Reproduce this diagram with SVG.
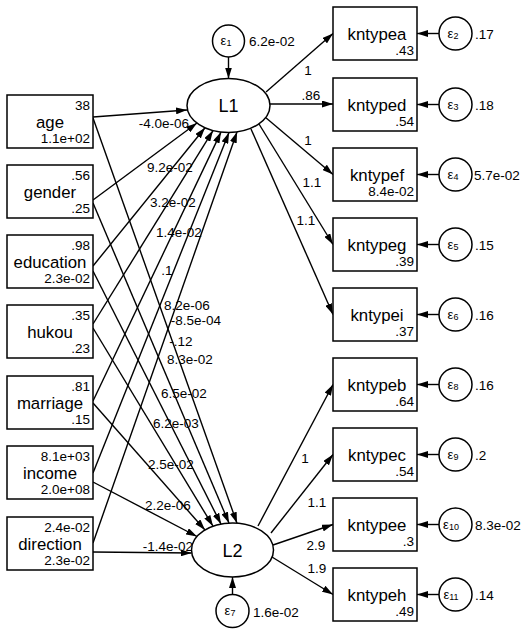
<svg xmlns="http://www.w3.org/2000/svg" width="529" height="637" viewBox="0 0 529 637">
<style>
text{font-family:"Liberation Sans",Arial,sans-serif;fill:#000}
.box{fill:#fff;stroke:#000;stroke-width:1.5}
.lat{fill:#fff;stroke:#000;stroke-width:1.5}
.err{fill:#fff;stroke:#000;stroke-width:1.5}
.name{font-size:16.8px;text-anchor:middle}
.num{font-size:13.5px;text-anchor:end}
.lab{font-size:13.5px;text-anchor:middle}
.elab{font-size:13.5px;text-anchor:start}
.eps{font-size:13px;text-anchor:middle}
.sub{font-size:9px}
.lv{font-size:18px;text-anchor:middle}
#connectors path{fill:none;stroke:#000;stroke-width:1.4;marker-end:url(#ah)}
</style>
<defs>
<marker id="ah" viewBox="0 0 11 7" refX="11" refY="3.5" markerWidth="11" markerHeight="7" markerUnits="userSpaceOnUse" orient="auto">
<path d="M0,0 L11,3.5 L0,7 z" fill="#000"/>
</marker>
</defs>
<rect width="529" height="637" fill="#fff"/>

<g id="connectors">
<path d="M93,117 L187,110"/>
<path d="M93,200 L197,123"/>
<path d="M93,266 L205,127.7"/>
<path d="M93,324 L213,130.6"/>
<path d="M93,401 L221,132.1"/>
<path d="M93,473 L229,132.5"/>
<path d="M93,543 L237,131.9"/>
<path d="M93,118 L237,523.2"/>
<path d="M93,203 L229,523.1"/>
<path d="M93,271 L221,524.1"/>
<path d="M93,328 L213,526.2"/>
<path d="M93,403 L205,530"/>
<path d="M93,482 L197,536.5"/>
<path d="M93,552 L191.6,553"/>
<path d="M266,92 L333,33.5"/>
<path d="M270,104 L333,104"/>
<path d="M265,117 L333,174.5"/>
<path d="M259,124 L333,244.5"/>
<path d="M251,129 L333,314.5"/>
<path d="M258,526 L333,384.5"/>
<path d="M271,533 L333,454.5"/>
<path d="M273,545 L333,524.5"/>
<path d="M272,557 L333,594.5"/>
<path d="M228.5,57 L228.5,78.5"/>
<path d="M232.5,594 L232.5,577"/>
<path d="M439,33.5 L417,33.5"/>
<path d="M439,104.5 L417,104.5"/>
<path d="M439,174.5 L417,174.5"/>
<path d="M439,244.5 L417,244.5"/>
<path d="M439,314.5 L417,314.5"/>
<path d="M439,384.5 L417,384.5"/>
<path d="M439,454.5 L417,454.5"/>
<path d="M439,524.5 L417,524.5"/>
<path d="M439,594.5 L417,594.5"/>
</g>

<g id="edge-labels">
<text class="lab" x="164" y="128">-4.0e-06</text>
<text class="lab" x="170" y="172">9.2e-02</text>
<text class="lab" x="173" y="207">3.2e-02</text>
<text class="lab" x="179" y="237">1.4e-02</text>
<text class="lab" x="167" y="275">.1</text>
<text class="lab" x="187" y="310">8.2e-06</text>
<text class="lab" x="196" y="325">-8.5e-04</text>
<text class="lab" x="181" y="346">-.12</text>
<text class="lab" x="190" y="364">8.3e-02</text>
<text class="lab" x="184" y="398">6.5e-02</text>
<text class="lab" x="176" y="428">6.2e-03</text>
<text class="lab" x="171" y="469">2.5e-02</text>
<text class="lab" x="168" y="510">2.2e-06</text>
<text class="lab" x="168" y="551">-1.4e-02</text>
<text class="lab" x="308" y="75">1</text>
<text class="lab" x="311" y="100">.86</text>
<text class="lab" x="308" y="145">1</text>
<text class="lab" x="312" y="187">1.1</text>
<text class="lab" x="306" y="225">1.1</text>
<text class="lab" x="305" y="463">1</text>
<text class="lab" x="317" y="507">1.1</text>
<text class="lab" x="316" y="550">2.9</text>
<text class="lab" x="317" y="573">1.9</text>
</g>

<g id="age"><rect class="box" x="7" y="95" width="86" height="53"/><text class="num" x="90" y="109.5">38</text><text class="name" x="50" y="128">age</text><text class="num" x="90" y="143">1.1e+02</text></g>
<g id="gender"><rect class="box" x="7" y="165" width="86" height="53"/><text class="num" x="90" y="179.5">.56</text><text class="name" x="50" y="198">gender</text><text class="num" x="90" y="213">.25</text></g>
<g id="education"><rect class="box" x="7" y="235" width="86" height="53"/><text class="num" x="90" y="249.5">.98</text><text class="name" x="50" y="268">education</text><text class="num" x="90" y="283">2.3e-02</text></g>
<g id="hukou"><rect class="box" x="7" y="305" width="86" height="53"/><text class="num" x="90" y="319.5">.35</text><text class="name" x="50" y="338">hukou</text><text class="num" x="90" y="353">.23</text></g>
<g id="marriage"><rect class="box" x="7" y="376" width="86" height="53"/><text class="num" x="90" y="390.5">.81</text><text class="name" x="50" y="409">marriage</text><text class="num" x="90" y="424">.15</text></g>
<g id="income"><rect class="box" x="7" y="446" width="86" height="53"/><text class="num" x="90" y="460.5">8.1e+03</text><text class="name" x="50" y="479">income</text><text class="num" x="90" y="494">2.0e+08</text></g>
<g id="direction"><rect class="box" x="7" y="517" width="86" height="53"/><text class="num" x="90" y="531.5">2.4e-02</text><text class="name" x="50" y="550">direction</text><text class="num" x="90" y="565">2.3e-02</text></g>

<g id="L1"><ellipse class="lat" cx="228.5" cy="105.5" rx="41.5" ry="27"/><text class="lv" x="228.5" y="112">L1</text></g>
<g id="L2"><ellipse class="lat" cx="232.5" cy="550" rx="41" ry="27"/><text class="lv" x="232.5" y="556.5">L2</text></g>

<g id="e1"><circle class="err" cx="228.5" cy="41" r="16"/><text class="eps" x="226" y="45">ε<tspan class="sub" dy="1">1</tspan></text><text class="elab" x="249" y="46">6.2e-02</text></g>
<g id="e7"><circle class="err" cx="232.5" cy="611" r="16.5"/><text class="eps" x="230" y="615">ε<tspan class="sub" dy="1">7</tspan></text><text class="elab" x="253" y="617">1.6e-02</text></g>

<g id="kntypea"><rect class="box" x="333" y="7" width="84" height="53"/><text class="name" x="377" y="40">kntypea</text><text class="num" x="414" y="55">.43</text></g>
<g id="kntyped"><rect class="box" x="333" y="78" width="84" height="53"/><text class="name" x="377" y="111">kntyped</text><text class="num" x="414" y="126">.54</text></g>
<g id="kntypef"><rect class="box" x="333" y="148" width="84" height="53"/><text class="name" x="377" y="181">kntypef</text><text class="num" x="414" y="196">8.4e-02</text></g>
<g id="kntypeg"><rect class="box" x="333" y="218" width="84" height="53"/><text class="name" x="377" y="251">kntypeg</text><text class="num" x="414" y="266">.39</text></g>
<g id="kntypei"><rect class="box" x="333" y="288" width="84" height="53"/><text class="name" x="377" y="321">kntypei</text><text class="num" x="414" y="336">.37</text></g>
<g id="kntypeb"><rect class="box" x="333" y="358" width="84" height="53"/><text class="name" x="377" y="391">kntypeb</text><text class="num" x="414" y="406">.64</text></g>
<g id="kntypec"><rect class="box" x="333" y="428" width="84" height="53"/><text class="name" x="377" y="461">kntypec</text><text class="num" x="414" y="476">.54</text></g>
<g id="kntypee"><rect class="box" x="333" y="498" width="84" height="53"/><text class="name" x="377" y="531">kntypee</text><text class="num" x="414" y="546">.3</text></g>
<g id="kntypeh"><rect class="box" x="333" y="568" width="84" height="53"/><text class="name" x="377" y="601">kntypeh</text><text class="num" x="414" y="616">.49</text></g>

<g id="e2"><circle class="err" cx="455.5" cy="33.5" r="16.5"/><text class="eps" x="453" y="38">ε<tspan class="sub" dy="1">2</tspan></text><text class="elab" x="475" y="39">.17</text></g>
<g id="e3"><circle class="err" cx="455.5" cy="104.5" r="16.5"/><text class="eps" x="453" y="109">ε<tspan class="sub" dy="1">3</tspan></text><text class="elab" x="475" y="110">.18</text></g>
<g id="e4"><circle class="err" cx="455.5" cy="174.5" r="16.5"/><text class="eps" x="453" y="179">ε<tspan class="sub" dy="1">4</tspan></text><text class="elab" x="474" y="180">5.7e-02</text></g>
<g id="e5"><circle class="err" cx="455.5" cy="244.5" r="16.5"/><text class="eps" x="453" y="249">ε<tspan class="sub" dy="1">5</tspan></text><text class="elab" x="475" y="250">.15</text></g>
<g id="e6"><circle class="err" cx="455.5" cy="314.5" r="16.5"/><text class="eps" x="453" y="319">ε<tspan class="sub" dy="1">6</tspan></text><text class="elab" x="475" y="320">.16</text></g>
<g id="e8"><circle class="err" cx="455.5" cy="384.5" r="16.5"/><text class="eps" x="453" y="389">ε<tspan class="sub" dy="1">8</tspan></text><text class="elab" x="475" y="390">.16</text></g>
<g id="e9"><circle class="err" cx="455.5" cy="454.5" r="16.5"/><text class="eps" x="453" y="459">ε<tspan class="sub" dy="1">9</tspan></text><text class="elab" x="475" y="460">.2</text></g>
<g id="e10"><circle class="err" cx="455.5" cy="524.5" r="16.5"/><text class="eps" x="451" y="529">ε<tspan class="sub" dy="1">10</tspan></text><text class="elab" x="475" y="530">8.3e-02</text></g>
<g id="e11"><circle class="err" cx="455.5" cy="594.5" r="16.5"/><text class="eps" x="451" y="599">ε<tspan class="sub" dy="1">11</tspan></text><text class="elab" x="475" y="600">.14</text></g>
</svg>
